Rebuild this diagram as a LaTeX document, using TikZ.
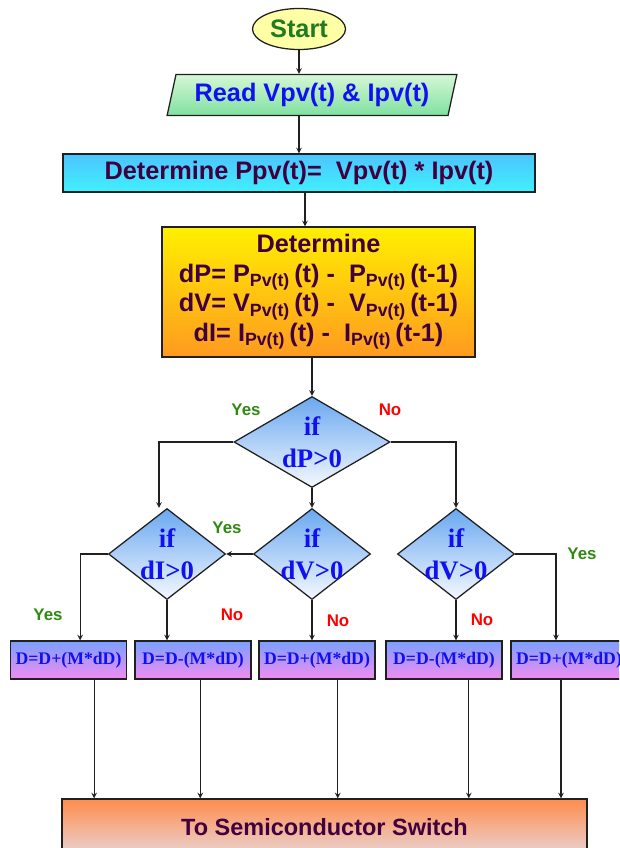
\documentclass[tikz,border=0pt]{standalone}
\usepackage{fontspec}
\setmainfont{Liberation Sans}
\newfontfamily\timesfont{Liberation Serif}
\usepackage{tikz}
\usetikzlibrary{arrows.meta,shapes.geometric}
\usepackage{xcolor}
\definecolor{txtpurple}{HTML}{400040}
\definecolor{txtblue}{HTML}{1010F0}
\definecolor{startgreen}{HTML}{1E7B1E}
\definecolor{yesgreen}{HTML}{2F8A12}
\definecolor{frame}{HTML}{202020}

\begin{document}
\begin{tikzpicture}[
    x=0.025cm,y=-0.025cm,
    term/.style={ellipse,draw=frame,line width=0.9pt,fill={rgb,255:red,255;green,255;blue,166},minimum width=2.325cm,minimum height=1.025cm,inner sep=0pt,font=\fontsize{18}{21}\selectfont\bfseries,text=startgreen},
    io/.style={trapezium,trapezium left angle=72,trapezium right angle=108,trapezium stretches=true,draw=frame,line width=0.9pt,top color={rgb,255:red,214;green,247;blue,214},bottom color={rgb,255:red,128;green,224;blue,160},minimum width=7.25cm,minimum height=1.025cm,inner sep=0pt,font=\fontsize{18}{21}\selectfont\bfseries,text=txtblue},
    proc/.style={draw=frame,line width=0.9pt,align=center,inner sep=0pt,font=\fontsize{18}{21}\selectfont\bfseries,text=txtpurple},
    dec/.style={diamond,draw=frame,line width=0.9pt,top color={rgb,255:red,106;green,168;blue,240},bottom color={rgb,255:red,244;green,248;blue,255},aspect=1.3,inner sep=-10pt,minimum height=2.275cm,align=center,font=\timesfont\fontsize{19}{23}\selectfont\bfseries,text=txtblue},
    upd/.style={draw=frame,line width=0.9pt,top color={rgb,255:red,122;green,160;blue,255},bottom color={rgb,255:red,242;green,140;blue,240},minimum width=2.9cm,minimum height=0.95cm,inner sep=0pt,font=\timesfont\fontsize{12.6}{14}\selectfont\bfseries,text=txtblue},
    arrow/.style={->,>=stealth,line width=0.8pt,color=frame},
    yes/.style={font=\fontsize{12}{14}\selectfont\bfseries,text=yesgreen},
    no/.style={font=\fontsize{12}{14}\selectfont\bfseries,text=red},
]
\useasboundingbox(0,0)rectangle(619,848);
\clip(0,0)rectangle(619,848);
\node[term](start)at(299,29){Start};
\node[io](read)at(312,95){Read Vpv(t) \& Ipv(t)};
\node[proc,top color={rgb,255:red,76;green,196;blue,255},bottom color={rgb,255:red,64;green,240;blue,255},minimum width=11.8cm,minimum height=0.95cm](ppv)at(299,173){Determine Ppv(t)=~ Vpv(t) * Ipv(t)};
\node[proc,top color={rgb,255:red,255;green,240;blue,0},bottom color={rgb,255:red,255;green,154;blue,32},minimum width=7.825cm,minimum height=3.25cm](det)at(318.5,292){
    Determine\\
    dP= P\textsubscript{Pv(t)}\,(t) -~~P\textsubscript{Pv(t)}\,(t-1)\\
    dV= V\textsubscript{Pv(t)}\,(t) -~~V\textsubscript{Pv(t)}\,(t-1)\\
    dI= I\textsubscript{Pv(t)}\,(t) -~~I\textsubscript{Pv(t)}\,(t-1)
};
\node[dec,aspect=1.7,minimum width=3.9cm](dP)at(312,442){if\\dP>0};
\node[dec,minimum width=2.925cm](dI)at(167,554){if\\dI>0};
\node[dec,minimum width=2.925cm](dVa)at(312,554){if\\dV>0};
\node[dec,minimum width=2.925cm](dVb)at(456,554){if\\dV>0};
\node[upd](b1)at(68.5,660){D=D+(M*dD)};
\node[upd](b2)at(193,660){D=D-(M*dD)};
\node[upd](b3)at(317,660){D=D+(M*dD)};
\node[upd](b4)at(444,660){D=D-(M*dD)};
\node[upd](b5)at(569,660){D=D+(M*dD)};
\node[proc,top color={rgb,255:red,255;green,140;blue,76},bottom color={rgb,255:red,232;green,212;blue,212},minimum width=13.125cm,minimum height=1.4cm,font=\fontsize{16.7}{20}\selectfont\bfseries](sw)at(324.5,827){To Semiconductor Switch};
\draw[arrow](start.south)--(start.south|-read.north);
\draw[arrow](read.south-|start)--(start|-ppv.north);
\draw[arrow]([xshift=0.15cm]ppv.south)--([xshift=0.15cm]ppv.south|-det.north);
\draw[arrow](dP|-det.south)--(dP.north);
\draw[arrow](dP.west)-|([xshift=-0.2cm]dI.north);
\draw[arrow](dP.east)-|(dVb.north);
\draw[arrow](dP.south)--(dVa.north);
\draw[arrow](dVa.west)--(dI.east);
\draw[arrow](dI.west)-|([xshift=0.29cm]b1.north);
\draw[arrow](dI.south)--(dI.south|-b2.north);
\draw[arrow](dVa.south)--(dVa.south|-b3.north);
\draw[arrow](dVb.south)--(dVb.south|-b4.north);
\draw[arrow](dVb.east)-|([xshift=-0.325cm]b5.north);
\draw[arrow]([xshift=0.64cm]b1.south)--([xshift=0.64cm]b1.south|-sw.north);
\draw[arrow]([xshift=0.18cm]b2.south)--([xshift=0.18cm]b2.south|-sw.north);
\draw[arrow]([xshift=0.52cm]b3.south)--([xshift=0.52cm]b3.south|-sw.north);
\draw[arrow]([xshift=0.62cm]b4.south)--([xshift=0.62cm]b4.south|-sw.north);
\draw[arrow]([xshift=-0.2cm]b5.south)--([xshift=-0.2cm]b5.south|-sw.north);
\node[yes](y1)at(246,410){Yes};
\node[no](n1)at(390,410){No};
\node[yes](y2)at(227,528){Yes};
\node[yes](y3)at(48,615){Yes};
\node[no](n2)at(232,615){No};
\node[no](n3)at(338,621){No};
\node[no](n4)at(482,620){No};
\node[yes](y4)at(582,554){Yes};
\end{tikzpicture}
\end{document}
